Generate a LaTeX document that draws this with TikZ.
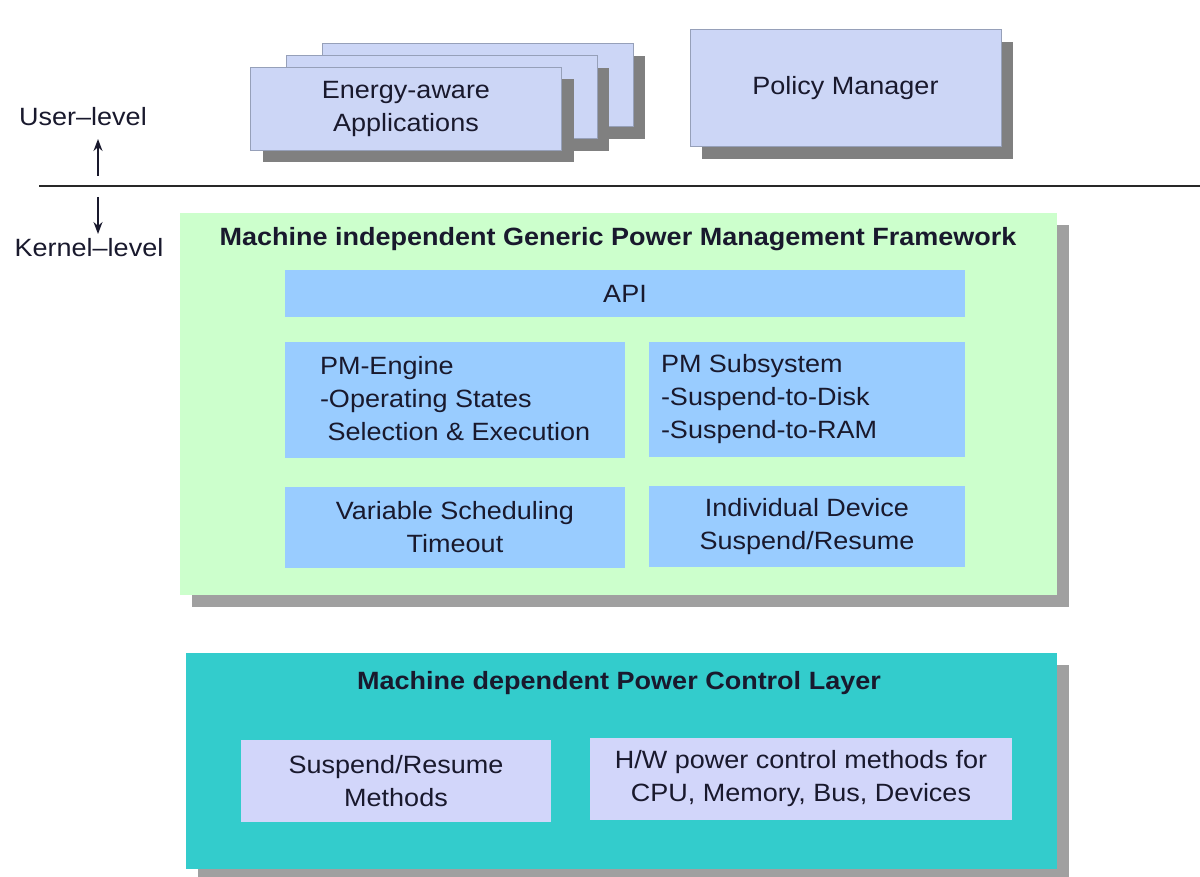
\documentclass[tikz,border=0pt]{standalone}
\usepackage{fontspec}
\setmainfont{Liberation Sans}[FakeStretch=1.08]
\usetikzlibrary{shadows,arrows.meta}

\definecolor{lavA}{RGB}{204,214,246}
\definecolor{lavB}{RGB}{210,214,250}
\definecolor{lavEdge}{RGB}{150,160,185}
\definecolor{shade}{RGB}{128,128,128}
\definecolor{dither}{RGB}{160,160,160}
\definecolor{paleGreen}{RGB}{204,255,204}
\definecolor{apiBlue}{RGB}{153,204,255}
\definecolor{tealLayer}{RGB}{51,204,204}
\definecolor{ink}{RGB}{25,25,45}
\definecolor{rule}{RGB}{40,40,40}

\tikzset{
  box/.style={rectangle, inner sep=0pt, outer sep=0pt, font=\fontsize{25}{33}\selectfont, text=ink, align=center},
  userbox/.style={box, fill=lavA, draw=lavEdge, line width=1pt,
    drop shadow={shadow xshift=12pt, shadow yshift=-12pt, fill=shade, opacity=1}},
  layer/.style={box, drop shadow={shadow xshift=12pt, shadow yshift=-12pt, fill=dither, opacity=1}},
  blockbox/.style={box, fill=apiBlue},
  methodbox/.style={box, fill=lavB},
  caption/.style={inner sep=0pt, font=\fontsize{25}{33}\selectfont\bfseries, text=ink},
  levellabel/.style={inner sep=0pt, font=\fontsize{25}{33}\selectfont, text=ink},
  levelarrow/.style={-{Stealth[length=12pt,width=9pt]}, line width=1.6pt, draw=ink},
}

\begin{document}
\begin{tikzpicture}[x=1pt, y=-1pt]
\useasboundingbox (0,0) rectangle (1200,877);

% user level: stacked applications and the policy manager
\node[userbox, minimum width=311pt, minimum height=83pt] (app3) at (477.5,85.5) {};
\node[userbox, minimum width=311pt, minimum height=83pt] (app2) at (441.5,97.5) {};
\node[userbox, minimum width=311pt, minimum height=83pt] (app1) at (406,109) {Energy-aware\\Applications};
\node[userbox, minimum width=311pt, minimum height=117pt] (policy) at (845.5,88.5) {Policy Manager};

% user / kernel boundary
\coordinate (ruleL) at (39,186);
\coordinate (ruleR) at (1200,186);
\draw[rule, line width=2pt] (ruleL) -- (ruleR);

\node[levellabel] (user) at (83,117) {User–level};
\node[levellabel] (kernel) at (89,248) {Kernel–level};
\coordinate (upFrom) at (98,176);
\coordinate (upTo) at (98,139);
\coordinate (downFrom) at (98,197);
\coordinate (downTo) at (98,234);
\draw[levelarrow] (upFrom) -- (upTo);
\draw[levelarrow] (downFrom) -- (downTo);

% machine independent framework
\node[layer, fill=paleGreen, minimum width=877pt, minimum height=382pt] (generic) at (618.5,404) {};
\node[caption] (genericTitle) at (618,239) {Machine independent Generic Power Management Framework};
\node[blockbox, minimum width=680pt, minimum height=47pt] (api) at (625,293.5) {API};
\node[blockbox, minimum width=340pt, minimum height=116pt] (engine) at (455,400) {};
\node[box, anchor=west, align=left] (engineText) at (320,399)
  {PM-Engine\\-Operating States\\\hspace*{0.3em}Selection \& Execution};
\node[blockbox, minimum width=316pt, minimum height=115pt] (subsys) at (807,399.5) {};
\node[box, anchor=west, align=left] (subsysText) at (661,399)
  {PM Subsystem\\-Suspend-to-Disk\\-Suspend-to-RAM};
\node[blockbox, minimum width=340pt, minimum height=81pt] (timeout) at (455,527.5) {Variable Scheduling\\Timeout};
\node[blockbox, minimum width=316pt, minimum height=81pt] (device) at (807,526.5) {Individual Device\\Suspend/Resume};

% machine dependent layer
\node[layer, fill=tealLayer, minimum width=871pt, minimum height=216pt] (dependent) at (621.5,761) {};
\node[caption] (dependentTitle) at (619,683) {Machine dependent Power Control Layer};
\node[methodbox, minimum width=310pt, minimum height=82pt] (suspend) at (396,781) {Suspend/Resume\\Methods};
\node[methodbox, minimum width=422pt, minimum height=82pt] (hw) at (801,779) {H/W power control methods for\\CPU, Memory, Bus, Devices};
\end{tikzpicture}
\end{document}
